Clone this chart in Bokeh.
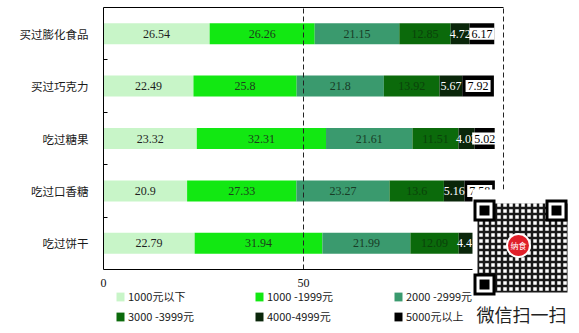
from bokeh.plotting import figure
from bokeh.models import (ColumnDataSource, Legend, LegendItem, FixedTicker, Range1d)
from bokeh.embed import file_html
from bokeh.resources import INLINE

# Snack buyers by monthly income band (%)
items = ["买过膨化食品", "买过巧克力", "吃过糖果", "吃过口香糖", "吃过饼干"]
bands = ["1000元以下", "1000 -1999元", "2000 -2999元", "3000 -3999元", "4000-4999元", "5000元以上"]
under_1000 = [26.54, 22.49, 23.32, 20.9, 22.79]
r1000_1999 = [26.26, 25.8, 32.31, 27.33, 31.94]
r2000_2999 = [21.15, 21.8, 21.61, 23.27, 21.99]
r3000_3999 = [12.85, 13.92, 11.51, 13.6, 12.09]
r4000_4999 = [4.72, 5.67, 4.03, 5.16, 4.41]
over_5000 = [6.17, 7.92, 5.02, 7.58, 5.04]
x_ticks = [0, 50, 100]

series = [under_1000, r1000_1999, r2000_2999, r3000_3999, r4000_4999, over_5000]
bar_colors = ["#c8f5c8", "#12e812", "#3a9a6e", "#0b6a0b", "#0a260a", "#000000"]
text_colors = ["#1e1e1e", "#1c3c1c", "#183c26", "#0a420a", "#ffffff", "#000000"]

n = len(items)
row_px = 52.4                      # height of one category band in pixels
px_per_pct = 4.0                   # horizontal scale
rows = [n - i - 0.5 for i in range(n)]   # first item on top

# the plot area fills the whole canvas; both axes are pinned at zero inside it
p = figure(width=579, height=333,
           x_range=Range1d(-103 / px_per_pct, 476 / px_per_pct),
           y_range=Range1d(-64 / row_px, n + 7 / row_px),
           output_backend="svg", toolbar_location=None, min_border=0)
p.outline_line_color = None
p.background_fill_color = "white"
p.border_fill_color = "white"
p.grid.visible = False

# stacked bars, left edge of each band = running total of the previous ones
left = [0.0] * n
renderers = []
label_sets = []
for vals, col, tcol in zip(series, bar_colors, text_colors):
    right = [a + b for a, b in zip(left, vals)]
    src = ColumnDataSource(dict(y=rows, left=left, right=right,
                                mid=[(a + b) / 2 for a, b in zip(left, right)],
                                txt=[f"{v:g}" for v in vals]))
    r = p.hbar(y="y", left="left", right="right", height=0.4, source=src,
               fill_color=col, line_color=None)
    renderers.append(r)
    label_sets.append((src, tcol))
    left = right

for i, (src, tcol) in enumerate(label_sets):
    kw = {}
    if i == len(label_sets) - 1:
        kw = dict(background_fill_color="white", padding=2)
    p.text(x="mid", y="y", text="txt", source=src, text_color=tcol,
           text_align="center", text_baseline="middle",
           text_font={"value": "Liberation Serif"}, text_font_size="12px", **kw)

# frame: solid top edge, dashed lines at 50 and 100
p.segment(x0=[x_ticks[0]], y0=[n], x1=[x_ticks[-1]], y1=[n], line_color="black", line_width=1)
p.segment(x0=x_ticks[1:], y0=[0, 0], x1=x_ticks[1:], y1=[n, n],
          line_color="#222222", line_width=1, line_dash="5 3")

# category axis
p.yaxis.fixed_location = 0
p.yaxis.bounds = (0, n)
p.yaxis.ticker = FixedTicker(ticks=rows, minor_ticks=[k for k in range(1, n)])
p.yaxis.major_label_overrides = {r: name for r, name in zip(rows, items)}
p.yaxis.axis_line_color = "black"
p.yaxis.major_tick_line_color = None
p.yaxis.major_tick_out = 0
p.yaxis.major_tick_in = 0
p.yaxis.minor_tick_line_color = "black"
p.yaxis.minor_tick_in = 4
p.yaxis.minor_tick_out = 0
p.yaxis.major_label_standoff = 15
p.yaxis.major_label_text_font = "Noto Sans CJK SC"
p.yaxis.major_label_text_font_size = "11.5px"
p.yaxis.major_label_text_color = "#1a1a1a"

# value axis sits on the bottom of the bars area
p.xaxis.fixed_location = 0
p.xaxis.bounds = (x_ticks[0], x_ticks[-1])
p.xaxis.ticker = FixedTicker(ticks=x_ticks)
p.xaxis.axis_line_color = "black"
p.xaxis.major_tick_line_color = None
p.xaxis.minor_tick_line_color = None
p.xaxis.major_tick_out = 0
p.xaxis.major_tick_in = 0
p.xaxis.major_label_standoff = 9
p.xaxis.major_label_text_font = "Liberation Serif"
p.xaxis.major_label_text_font_size = "12px"
p.xaxis.major_label_text_color = "#111111"

legend = Legend(items=[LegendItem(label=b, renderers=[r]) for b, r in zip(bands, renderers)],
                location=(115, 7), orientation="horizontal", ncols=3,
                glyph_width=10, glyph_height=11, label_standoff=3, label_width=126,
                label_height=20, spacing=0, padding=0, margin=0,
                border_line_color=None, background_fill_alpha=0,
                label_text_font="Noto Sans CJK SC", label_text_font_size="11px",
                label_text_color="#1a1a1a")
p.add_layout(legend, "center")

# WeChat QR badge over the lower right corner, drawn in pixel coordinates
p.extra_x_ranges = {"px": Range1d(0, 579)}
p.extra_y_ranges = {"py": Range1d(333, 0)}
badge = dict(x_range_name="px", y_range_name="py", level="overlay")

p.quad(left=[472], right=[579], top=[189], bottom=[333], fill_color="white",
       line_color=None, **badge)
p.quad(left=[477], right=[567], top=[203], bottom=[292], fill_color="white", line_color=None,
       hatch_pattern="cross", hatch_color="black", hatch_scale=6, hatch_weight=2.5,
       hatch_alpha=0.9, **badge)
fx = [473, 545, 473]
fy = [199, 199, 273]
p.quad(left=fx, right=[x + 22 for x in fx], top=fy, bottom=[y + 22 for y in fy],
       fill_color="black", line_color=None, **badge)
p.quad(left=[x + 3 for x in fx], right=[x + 19 for x in fx], top=[y + 3 for y in fy],
       bottom=[y + 19 for y in fy], fill_color="white", line_color=None, **badge)
p.quad(left=[x + 6 for x in fx], right=[x + 16 for x in fx], top=[y + 6 for y in fy],
       bottom=[y + 16 for y in fy], fill_color="black", line_color=None, **badge)
p.scatter(x=[518], y=[245], size=25, marker="circle", fill_color="white", line_color=None, **badge)
p.scatter(x=[518], y=[245], size=21, marker="circle", fill_color="#e0202a", line_color=None, **badge)
p.text(x=[518], y=[245], text=["纳食"], text_align="center", text_baseline="middle",
       text_font={"value": "Noto Sans CJK SC"}, text_font_size="8px", text_color="white", **badge)
p.text(x=[521], y=[313], text=["微信扫一扫"], text_align="center", text_baseline="middle",
       text_font={"value": "Noto Sans CJK SC"}, text_font_size="18px", text_color="#222222", **badge)

open("out.html", "w").write(file_html(p, INLINE))
